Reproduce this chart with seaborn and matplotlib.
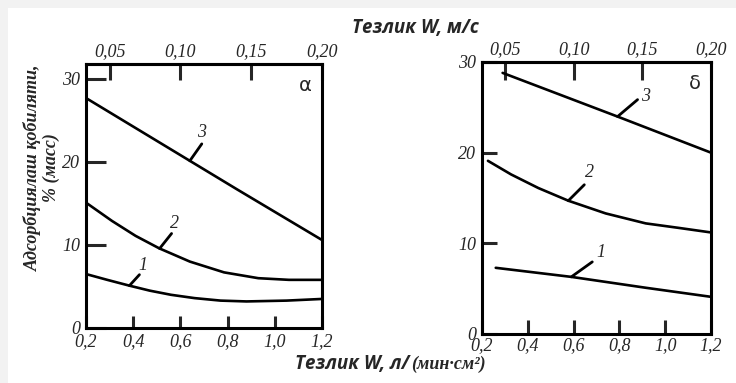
import numpy as np
import pandas as pd
import matplotlib
matplotlib.use('Agg')
import matplotlib.pyplot as plt
from matplotlib.patches import Rectangle
import seaborn as sns

# panel "α": flow rate W, l/(min*cm2) vs adsorption capacity, % (mass)
a_x1 = [0.2, 0.29, 0.384, 0.47, 0.56, 0.66, 0.77, 0.88, 1.05, 1.2]
a_y1 = [6.5, 5.8, 5.1, 4.5, 4.0, 3.6, 3.3, 3.2, 3.3, 3.5]
a_x2 = [0.2, 0.31, 0.41, 0.51, 0.64, 0.785, 0.93, 1.06, 1.2]
a_y2 = [15.1, 12.9, 11.1, 9.6, 8.0, 6.7, 6.0, 5.8, 5.8]
a_x3 = [0.2, 0.84, 1.2]
a_y3 = [27.7, 16.7, 10.6]

# panel "δ"
b_x1 = [0.26, 0.59, 0.915, 1.2]
b_y1 = [7.3, 6.3, 5.1, 4.1]
b_x2 = [0.226, 0.327, 0.446, 0.577, 0.74, 0.915, 1.06, 1.2]
b_y2 = [19.1, 17.6, 16.1, 14.7, 13.3, 12.2, 11.7, 11.2]
b_x3 = [0.29, 0.79, 1.2]
b_y3 = [28.8, 24.0, 20.0]

curve_names = ['1', '2', '3']
x_ticks = [0.2, 0.4, 0.6, 0.8, 1.0, 1.2]
top_ticks = [0.05, 0.10, 0.15, 0.20]
y_ticks = [0, 10, 20, 30]

sns.set_theme(style='white')
plt.rcParams['font.family'] = ['Liberation Serif', 'DejaVu Serif']

fig = plt.figure(figsize=(7.36, 3.83), dpi=100, facecolor='#f2f2f2')
fig.patches.append(Rectangle((8 / 736, 0), 1, 1 - 8 / 383, transform=fig.transFigure,
                             facecolor='white', edgecolor='none', zorder=-5))

ax1 = fig.add_axes([86 / 736, 1 - 328 / 383, 236 / 736, 264 / 383])
ax2 = fig.add_axes([482 / 736, 1 - 334 / 383, 229 / 736, 272 / 383])

panels = [
    (ax1, [(a_x1, a_y1), (a_x2, a_y2), (a_x3, a_y3)], 31.8, 'α',
     [0.384, 0.512, 0.64],
     [((7.2, 7.9), (9.4, 14.4)), ((8.6, 10.8), (10.8, 18)), ((8.6, 12.2), (8.6, 20.2))],
     (14.4, 9.0, 11.5), 4),
    (ax2, [(b_x1, b_y1), (b_x2, b_y2), (b_x3, b_y3)], 30.0, 'δ',
     [0.59, 0.577, 0.792],
     [((15.1, 10.8), (21.6, 17.3)), ((11.5, 11.5), (15.1, 20.2)), ((14.4, 12.2), (20.2, 14.4))],
     (11.0, 10.0, 13.0), 2),
]

for ax, curves, ytop, letter, lead_x, offs, tlen, xpad in panels:
    ax.set_facecolor('white')
    for name, (xs, ys) in zip(curve_names, curves):
        df = pd.DataFrame({'x': xs, 'y': ys})
        sns.lineplot(data=df, x='x', y='y', ax=ax, color='black', lw=1.9)
    # leaders with curve numbers
    for name, (xs, ys), lx, (lo, to) in zip(curve_names, curves, lead_x, offs):
        tip = (lx, np.interp(lx, xs, ys))
        ax.annotate('', xy=tip, xytext=lo, textcoords='offset points',
                    arrowprops=dict(arrowstyle='-', lw=2.0, color='black',
                                    shrinkA=0, shrinkB=0))
        ax.annotate(name, xy=tip, xytext=to, textcoords='offset points',
                    ha='center', va='center', fontsize=13, style='italic')

    ax.set_xlim(0.2, 1.2)
    ax.set_ylim(0, ytop)
    ax.set_xlabel('')
    ax.set_ylabel('')
    ax.set_xticks(x_ticks)
    ax.set_xticklabels([f'{v:.1f}'.replace('.', ',') for v in x_ticks])
    ax.set_yticks(y_ticks)
    ax.set_yticklabels([str(v) for v in y_ticks])
    for s in ax.spines.values():
        s.set_visible(True)
        s.set_color('black')
        s.set_linewidth(2.2)
    ax.tick_params(axis='y', direction='in', length=tlen[0], width=2.2, pad=4,
                   labelsize=13, left=True, right=False)
    ax.tick_params(axis='x', direction='in', length=tlen[1], width=2.2, pad=xpad,
                   labelsize=13, bottom=True, top=False)
    for lab in ax.get_xticklabels() + ax.get_yticklabels():
        lab.set_style('italic')

    sec = ax.secondary_xaxis('top', functions=(lambda x: x / 6, lambda x: x * 6))
    sec.set_xticks(top_ticks)
    sec.set_xticklabels([f'{v:.2f}'.replace('.', ',') for v in top_ticks])
    sec.tick_params(direction='in', length=tlen[2], width=2.2, pad=3, labelsize=13)
    sec.spines['top'].set_linewidth(2.2)
    for lab in sec.get_xticklabels():
        lab.set_style('italic')

    ax.text(0.93, 0.92, letter, transform=ax.transAxes, fontsize=14,
            ha='center', va='center', family=['DejaVu Sans'])

fig.text(415 / 736, 1 - 28 / 383, 'Тезлик W, м/с', ha='center', va='center',
         fontsize=13.5, fontweight='bold', style='italic', family=['Open Sans', 'DejaVu Sans'])

t1 = fig.text(295 / 736, 1 - 364 / 383, 'Тезлик W, л/', ha='left', va='center',
              fontsize=13.5, fontweight='bold', style='italic', family=['Open Sans', 'DejaVu Sans'])
fig.canvas.draw()
bb = t1.get_window_extent()
fig.text(bb.x1 / 736 + 0.002, 1 - 364 / 383, '(мин·см²)', ha='left', va='center',
         fontsize=13, fontweight='bold', style='italic', family=['Liberation Serif', 'DejaVu Serif'])

fig.text(42 / 736, 1 - 168 / 383, 'Адсорбциялаш қобиляти,\n% (масс)', rotation=90,
         ha='center', va='center', multialignment='center', fontsize=13,
         fontweight='bold', style='italic', linespacing=1.05)

fig.savefig('out.png', dpi=100, facecolor=fig.get_facecolor())
